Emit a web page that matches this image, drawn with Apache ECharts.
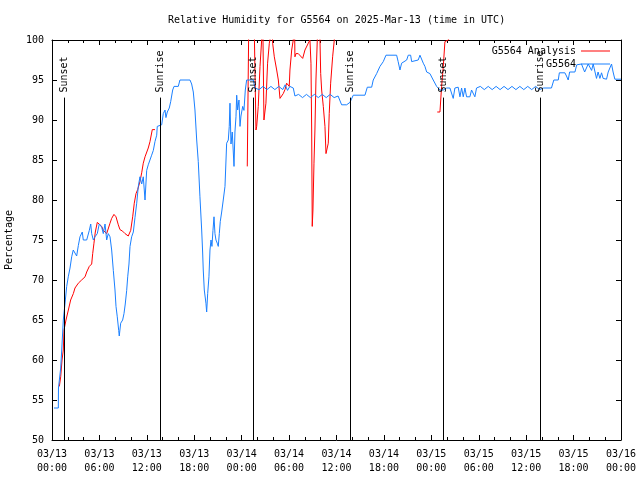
<!DOCTYPE html>
<html>
<head>
<meta charset="utf-8">
<script src="https://cdn.jsdelivr.net/npm/echarts@6/dist/echarts.min.js"></script>
<style>html,body{margin:0;padding:0;background:#fff;}#c{width:640px;height:480px;}</style>
</head>
<body>
<div id="c"></div>
<script>
// hours since 2025-03-13 00:00 UTC, relative humidity (%)
var blueObs = [
[0.25,54],[0.80,54],[0.82,56.5],[1.10,59],[1.23,61.25],[1.43,65],[1.64,67],[1.86,69.2],[2.06,70.4],[2.28,71.5],[2.49,72.9],[2.69,73.75],[2.91,73.5],[3.12,73],[3.33,74.3],[3.54,75.4],[3.83,76],[3.96,75],[4.39,75],[4.72,76.2],[4.90,77],[5.02,75.8],[5.23,75],[5.44,75.4],[5.73,75.8],[5.98,77],[6.29,76.6],[6.49,75.8],[6.71,77],[6.92,75],[7.12,75.8],[7.34,75.4],[7.55,73.75],[7.76,71.2],[7.97,68.75],[8.10,66.7],[8.26,65.4],[8.44,63.7],[8.51,63],[8.69,64.6],[8.94,65],[9.11,65.8],[9.27,67],[9.45,68.7],[9.58,70.4],[9.74,72],[9.87,74.2],[10.08,75.4],[10.29,76],[10.50,77.8],[10.72,79.6],[10.92,81.7],[11.13,82.9],[11.35,82],[11.55,82.9],[11.77,80],[11.98,83.7],[12.18,84.4],[12.40,84.2],[12.61,85.6],[12.82,86.2],[13.03,87.3],[13.25,88.1],[13.32,89.2],[13.88,89.4],[14.08,90.8],[14.30,91.25],[14.42,90.3],[14.59,91],[14.84,91.5],[15.02,92.3],[15.27,93.75],[15.44,94.2],[15.98,94.2],[16.19,95],[17.46,95],[17.67,94.5],[17.88,93.5],[18.09,91.25],[18.31,87.5],[18.51,84.8],[18.72,80.4],[18.94,76.25],[19.06,73.5],[19.14,71.25],[19.27,68.75],[19.48,67.1],[19.57,66],[19.70,68.3],[19.86,70.4],[19.99,73.75],[20.12,75],[20.24,74.2],[20.37,76.2],[20.50,77.9],[20.62,75.8],[20.75,75],[20.91,74.6],[21.04,74.2],[21.17,75.8],[21.29,77.3],[21.47,78.5],[21.67,80],[21.89,81.7],[22.10,87.1],[22.31,87.5],[22.43,89.2],[22.52,92.1],[22.65,87],[22.81,88.5],[22.94,86],[23.03,84.2],[23.15,88.5],[23.28,90.4],[23.37,93.1],[23.49,91.25],[23.66,92.5],[23.79,89.2],[23.91,90.5],[24.13,91.7],[24.29,91.2],[24.46,93.75],[24.63,95],[25.47,95],[25.68,94],
[26.2,93.8],[26.7,94.2],[27.2,93.8],[27.7,94.2],[28.2,93.8],[28.7,94.2],[29.2,93.8],[29.5,94.4],[29.8,93.7],[30.1,94.2],[30.53,94],[30.74,93],
[31.2,93.2],[31.7,92.8],[32.2,93.2],[32.7,92.8],[33.2,93.2],[33.7,92.8],[34.2,93.2],[34.7,92.8],[35.2,93.2],[35.7,92.8],[36.2,93],[36.44,93],[36.65,91.9],[37.28,91.9],[37.7,92.2],[38.12,93.1],[39.6,93.1],[39.9,94.1],[40.45,94.1],[40.65,95],[41.08,95.8],[41.5,96.7],[41.92,97.3],[42.26,98.1],[43.61,98.1],[43.8,97.3],[44.03,96.25],[44.24,97.1],[44.45,97.3],[44.88,97.5],[45.08,98.1],[45.38,98.1],[45.51,97.3],[45.71,97.1],[46.34,97.5],[46.56,98.1],[46.77,98.1],[46.98,97.1],[47.19,96.7],[47.41,96],[47.82,95.8],[48.24,95],[48.67,94.2],[49.09,93.75],[49.3,94],[49.51,93.75],[49.93,94],[50.35,94],[50.77,92.7],[50.98,94],[51.4,94.1],[51.62,92.9],[51.83,94],[52.04,92.9],[52.25,94],[52.46,92.9],[52.88,92.9],[53.09,93.75],[53.51,92.9],[53.72,94],
[54.2,94.2],[54.7,93.8],[55.2,94.2],[55.7,93.8],[56.2,94.2],[56.7,93.8],[57.2,94.2],[57.7,93.8],[58.2,94.2],[58.7,93.8],[59.2,94.2],[59.7,93.8],[60.2,94.2],[60.7,93.8],[61.2,94.2],[61.7,93.8],[62.2,94],[63.2,94],[63.5,95],[64.06,95],[64.2,95.9],[64.9,95.9],[65.1,95.5],[65.32,95],[65.5,96],[66.17,96],[66.4,96.9],[67.0,97],[67.2,96.5],[67.4,96],[67.85,97],[68.28,96.2],[68.48,97],[68.9,95.2],[69.1,96],[69.33,95.2],[69.54,95.9],[69.74,95.2],[70.17,95.1],[70.38,96],[70.8,97],[71.0,96],[71.22,95.1],[72,95.1]
];
var analysis = [
[0.93,56.7],[1.10,57.9],[1.27,60],[1.43,61.25],[1.52,63.75],[1.77,65],[2.07,66.25],[2.36,67.5],[2.70,68.3],[2.91,69],[3.33,69.6],[3.75,70],[4.18,70.4],[4.39,71],[4.72,71.7],[5.02,72],[5.15,73.3],[5.31,74.6],[5.48,76],[5.73,77.2],[5.98,77.1],[6.29,76.7],[6.49,76.2],[6.92,75.8],[7.12,76],[7.34,77.1],[7.55,77.7],[7.84,78.2],[8.10,77.9],[8.39,76.9],[8.60,76.3],[8.94,76.1],[9.24,75.8],[9.65,75.5],[9.96,76.2],[10.21,77.9],[10.41,79.6],[10.63,80.8],[10.84,81.3],[11.13,82.3],[11.35,83.4],[11.55,84.6],[11.77,85.4],[11.98,85.6],[12.18,86.5],[12.40,87.3],[12.69,88.8],[13.03,88.8],
[18,null],
[24.71,84.2],[24.92,104],[25.55,104],[25.81,88.75],[25.9,89.2],[26.1,91.7],[26.32,96.7],[26.53,100],[26.65,104],[26.82,90],[26.95,89.8],[27.07,92.1],[27.28,97.1],[27.5,99.6],[27.67,100.5],[27.79,103],[27.92,99.6],[28.13,97.9],[28.43,96.25],[28.64,95],[28.85,92.7],[29.06,92.9],[29.26,93.3],[29.48,93.8],[29.69,94.6],[30.02,94.2],[30.11,96.25],[30.33,98.75],[30.53,100],[30.66,104],[30.74,97.9],[30.87,98.3],[31.16,98.3],[31.38,98.1],[31.72,97.7],[32.01,98.75],[32.43,99.6],[32.64,100],[32.77,97.1],[32.86,88.75],[32.93,76.7],[33.02,78.75],[33.15,84.6],[33.27,88.75],[33.4,95],[33.57,100],[33.69,104],[33.91,100],[34.0,95.8],[34.12,93.75],[34.33,91.7],[34.54,89.2],[34.67,85.8],[34.83,85.6],[34.96,87.1],[35.08,90.8],[35.26,94.6],[35.51,97.9],[35.72,100],[35.8,103],
[42,null],
[48.75,91],[49.09,91],[49.3,94.2],[49.51,96.7],[49.72,99.8],[50.14,100],[50.35,100.3],[50.6,102]
];
var sunTimes = [1.52, 13.67, 25.44, 37.7, 49.5, 61.8];
var sunLabels = ['Sunset', 'Sunrise', 'Sunset', 'Sunrise', 'Sunset', 'Sunrise'];
var sunLineTop = 92.8;
var yMin = 50, yMax = 100, yStep = 5;
var xMin = 0, xMax = 72, xStep = 6;

var FONT = 'DejaVu Sans Mono';
function fmtX(h) {
  var d = 13 + Math.floor(h / 24);
  var hr = Math.round(h % 24);
  return '03/' + d + '\n' + (hr < 10 ? '0' : '') + hr + ':00';
}
var chart = echarts.init(document.getElementById('c'));
var xCommon = {
  type: 'value', min: xMin, max: xMax, interval: xStep,
  axisLine: { show: true, onZero: false, lineStyle: { color: '#000', width: 1 } },
  axisTick: { show: true, inside: true, length: 5, lineStyle: { color: '#000' } },
  minorTick: { show: true, splitNumber: 3, length: 3, lineStyle: { color: '#000' } },
  splitLine: { show: false }
};
var yCommon = {
  type: 'value', min: yMin, max: yMax, interval: yStep,
  axisLine: { show: true, onZero: false, lineStyle: { color: '#000', width: 1 } },
  axisTick: { show: true, inside: true, length: 5, lineStyle: { color: '#000' } },
  splitLine: { show: false }
};
var legendText = { fontFamily: FONT, fontSize: 10, color: '#000' };
var option = {
  backgroundColor: '#fff',
  animation: false,
  title: {
    text: 'Relative Humidity for G5564 on 2025-Mar-13 (time in UTC)',
    left: 163, top: 10,
    textStyle: { fontFamily: FONT, fontSize: 10, fontWeight: 'normal', color: '#000' }
  },
  grid: { left: 52, right: 19, top: 40, bottom: 40, outerBoundsMode: 'none', containLabel: false },
  legend: [
    { data: ['G5564 Analysis'], right: 25, top: 41, align: 'right', icon: 'rect', itemWidth: 29, itemHeight: 1,
      itemGap: 0, textStyle: legendText },
    { data: ['G5564'], right: 25, top: 54, align: 'right', icon: 'rect', itemWidth: 29, itemHeight: 1,
      itemGap: 0, textStyle: legendText }
  ],
  xAxis: [
    Object.assign({}, xCommon, { position: 'bottom',
      axisLabel: { formatter: fmtX, fontFamily: FONT, fontSize: 10, color: '#000', lineHeight: 14, margin: 7 } }),
    Object.assign({}, xCommon, { position: 'top', axisLabel: { show: false } })
  ],
  yAxis: [
    Object.assign({}, yCommon, { position: 'left',
      name: 'Percentage', nameLocation: 'middle', nameGap: 38,
      nameTextStyle: { fontFamily: FONT, fontSize: 10, color: '#000' },
      axisLabel: { fontFamily: FONT, fontSize: 10, color: '#000', margin: 8 } }),
    Object.assign({}, yCommon, { position: 'right', axisLabel: { show: false } })
  ],
  series: [
    {
      name: 'G5564 Analysis', type: 'line', showSymbol: false, symbol: 'none',
      data: analysis.map(function (p) { return [p[0], p[1] === null ? '-' : p[1]]; }),
      lineStyle: { color: '#ff0000', width: 1 }, itemStyle: { color: '#ff0000' },
      clip: true, connectNulls: false, z: 3
    },
    {
      name: 'G5564', type: 'line', showSymbol: false, symbol: 'none',
      data: blueObs,
      lineStyle: { color: '#1a80ff', width: 1 }, itemStyle: { color: '#1a80ff' },
      clip: true, z: 4
    },
    {
      name: 'sun', type: 'scatter', symbolSize: 0, silent: true, z: 5,
      itemStyle: { opacity: 1, color: '#000' },
      data: sunTimes.map(function (t, i) { return { value: [t, sunLineTop], name: sunLabels[i] }; }),
      label: {
        show: true, formatter: function (p) { return p.name; },
        position: 'top', distance: 5, rotate: 90, align: 'left', verticalAlign: 'middle',
        fontFamily: FONT, fontSize: 10, color: '#000', opacity: 1
      },
      markLine: {
        silent: true, symbol: 'none', animation: false,
        lineStyle: { color: '#000', width: 1, type: 'solid', opacity: 1 },
        label: { show: false },
        data: sunTimes.map(function (t) { return [{ coord: [t, yMin] }, { coord: [t, sunLineTop] }]; })
      }
    }
  ]
};
chart.setOption(option);
</script>
</body>
</html>
